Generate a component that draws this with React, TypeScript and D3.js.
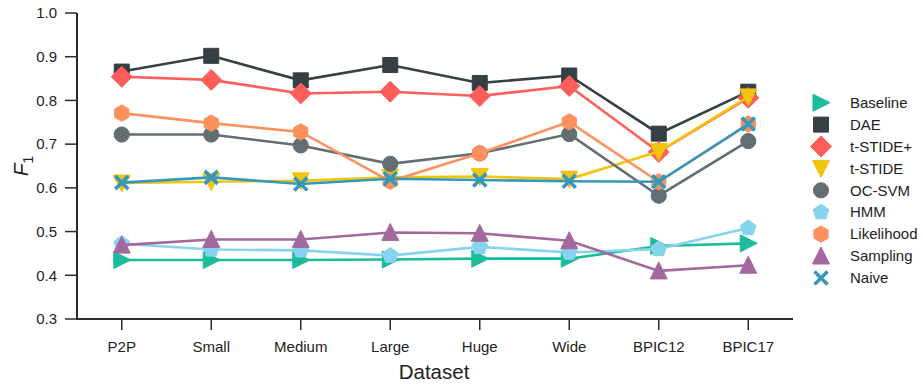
import React from 'react'
import * as d3 from 'd3'

const datasets = ['P2P', 'Small', 'Medium', 'Large', 'Huge', 'Wide', 'BPIC12', 'BPIC17']
const yTicks = [0.3, 0.4, 0.5, 0.6, 0.7, 0.8, 0.9, 1.0]

const baseline = [0.435, 0.435, 0.435, 0.436, 0.438, 0.438, 0.467, 0.473]
const dae = [0.866, 0.902, 0.846, 0.881, 0.84, 0.857, 0.724, 0.82]
const tstidePlus = [0.854, 0.847, 0.816, 0.82, 0.81, 0.833, 0.682, 0.806]
const tstide = [0.611, 0.614, 0.616, 0.624, 0.626, 0.62, 0.683, 0.808]
const ocsvm = [0.722, 0.722, 0.697, 0.655, 0.679, 0.723, 0.582, 0.707]
const hmm = [0.472, 0.459, 0.457, 0.445, 0.465, 0.452, 0.46, 0.508]
const likelihood = [0.771, 0.748, 0.728, 0.615, 0.679, 0.751, 0.614, 0.746]
const sampling = [0.469, 0.482, 0.482, 0.498, 0.496, 0.479, 0.41, 0.423]
const naive = [0.612, 0.624, 0.609, 0.621, 0.618, 0.615, 0.614, 0.746]

type Shape = 'right' | 'square' | 'diamond' | 'down' | 'circle' | 'pentagon' | 'hexagon' | 'up' | 'x'

const series: { name: string; values: number[]; color: string; shape: Shape }[] = [
  { name: 'Baseline', values: baseline, color: '#1abc9c', shape: 'right' },
  { name: 'DAE', values: dae, color: '#353f44', shape: 'square' },
  { name: 't-STIDE+', values: tstidePlus, color: '#ff5e5b', shape: 'diamond' },
  { name: 't-STIDE', values: tstide, color: '#f1c40f', shape: 'down' },
  { name: 'OC-SVM', values: ocsvm, color: '#636e72', shape: 'circle' },
  { name: 'HMM', values: hmm, color: '#85d3ec', shape: 'pentagon' },
  { name: 'Likelihood', values: likelihood, color: '#fd915e', shape: 'hexagon' },
  { name: 'Sampling', values: sampling, color: '#a3689d', shape: 'up' },
  { name: 'Naive', values: naive, color: '#3598b9', shape: 'x' },
]

// regular polygon path, first vertex at angle a0
function poly(n: number, r: number, a0: number) {
  const pts: [number, number][] = d3.range(n).map(i => {
    const a = a0 + (i * 2 * Math.PI) / n
    return [r * Math.cos(a), r * Math.sin(a)]
  })
  return 'M' + pts.map(p => p.join(',')).join('L') + 'Z'
}

function markerPath(shape: Shape) {
  switch (shape) {
    case 'square': return 'M-7.5,-7.5H7.5V7.5H-7.5Z'
    case 'diamond': return 'M0,-10.5L10.5,0L0,10.5L-10.5,0Z'
    case 'circle': return d3.symbol(d3.symbolCircle, Math.PI * 7.6 * 7.6)() as string
    case 'right': return 'M-8,-8.5L9,0L-8,8.5Z'
    case 'down': return 'M-8.5,-8L8.5,-8L0,9Z'
    case 'up': return 'M-8.5,8L8.5,8L0,-9Z'
    case 'pentagon': return poly(5, 8.2, -Math.PI / 2)
    case 'hexagon': return poly(6, 8.2, -Math.PI / 2)
    case 'x': return 'M-6.5,-6.5L6.5,6.5M-6.5,6.5L6.5,-6.5'
  }
}

function Marker({ shape, color, x, y }: { shape: Shape; color: string; x: number; y: number }) {
  const d = markerPath(shape)
  if (shape === 'x') {
    return <path d={d} transform={`translate(${x},${y})`} stroke={color} strokeWidth={3.6} fill="none" />
  }
  return <path d={d} transform={`translate(${x},${y})`} fill={color} stroke={color} strokeWidth={1} strokeLinejoin="round" />
}

export default function App() {
  const W = 923
  const H = 384
  const left = 77
  const right = 793
  const top = 13
  const bottom = 319

  const x = d3.scalePoint<string>().domain(datasets).range([left, right]).padding(0.5)
  const y = d3.scaleLinear().domain([0.3, 1.0]).range([bottom, top])
  const line = d3.line<number>()
    .x((_, i) => x(datasets[i]) as number)
    .y(d => y(d))

  const font = 'Liberation Sans, Arial, sans-serif'
  const axisColor = '#2b2b2b'

  return (
    <svg width={W} height={H} style={{ position: 'absolute', left: 0, top: 0, background: '#fff' }} fontFamily={font}>
      {/* axes */}
      <line x1={left} x2={left} y1={top} y2={bottom} stroke={axisColor} strokeWidth={2} />
      <line x1={left - 1} x2={right} y1={bottom} y2={bottom} stroke={axisColor} strokeWidth={2} />
      {yTicks.map(t => (
        <g key={t}>
          <line x1={left - 12} x2={left} y1={y(t)} y2={y(t)} stroke={axisColor} strokeWidth={1.5} />
          <text x={57} y={y(t)} dy="0.35em" textAnchor="end" fontSize={15} fill="#222">{t.toFixed(1)}</text>
        </g>
      ))}
      {datasets.map(dn => (
        <g key={dn}>
          <line x1={x(dn)} x2={x(dn)} y1={bottom} y2={bottom + 11} stroke={axisColor} strokeWidth={1.5} />
          <text x={x(dn)} y={352} textAnchor="middle" fontSize={15} fill="#222">{dn}</text>
        </g>
      ))}
      <text x={434} y={379} textAnchor="middle" fontSize={20.5} fill="#222">Dataset</text>
      <text transform="translate(28,166) rotate(-90)" textAnchor="middle" fontSize={21} fill="#222">
        <tspan fontStyle="italic">F</tspan>
        <tspan fontSize={14} dy={5}>1</tspan>
      </text>

      {/* series */}
      {series.map(s => (
        <g key={s.name}>
          <path d={line(s.values) as string} fill="none" stroke={s.color} strokeWidth={2.6} />
          {s.values.map((v, i) => (
            <Marker key={i} shape={s.shape} color={s.color} x={x(datasets[i]) as number} y={y(v)} />
          ))}
        </g>
      ))}

      {/* legend */}
      {series.map((s, i) => {
        const ly = 102.7 + i * 21.9
        return (
          <g key={s.name}>
            <Marker shape={s.shape} color={s.color} x={821} y={ly} />
            <text x={850} y={ly} dy="0.35em" fontSize={15} fill="#222">{s.name}</text>
          </g>
        )
      })}
    </svg>
  )
}
